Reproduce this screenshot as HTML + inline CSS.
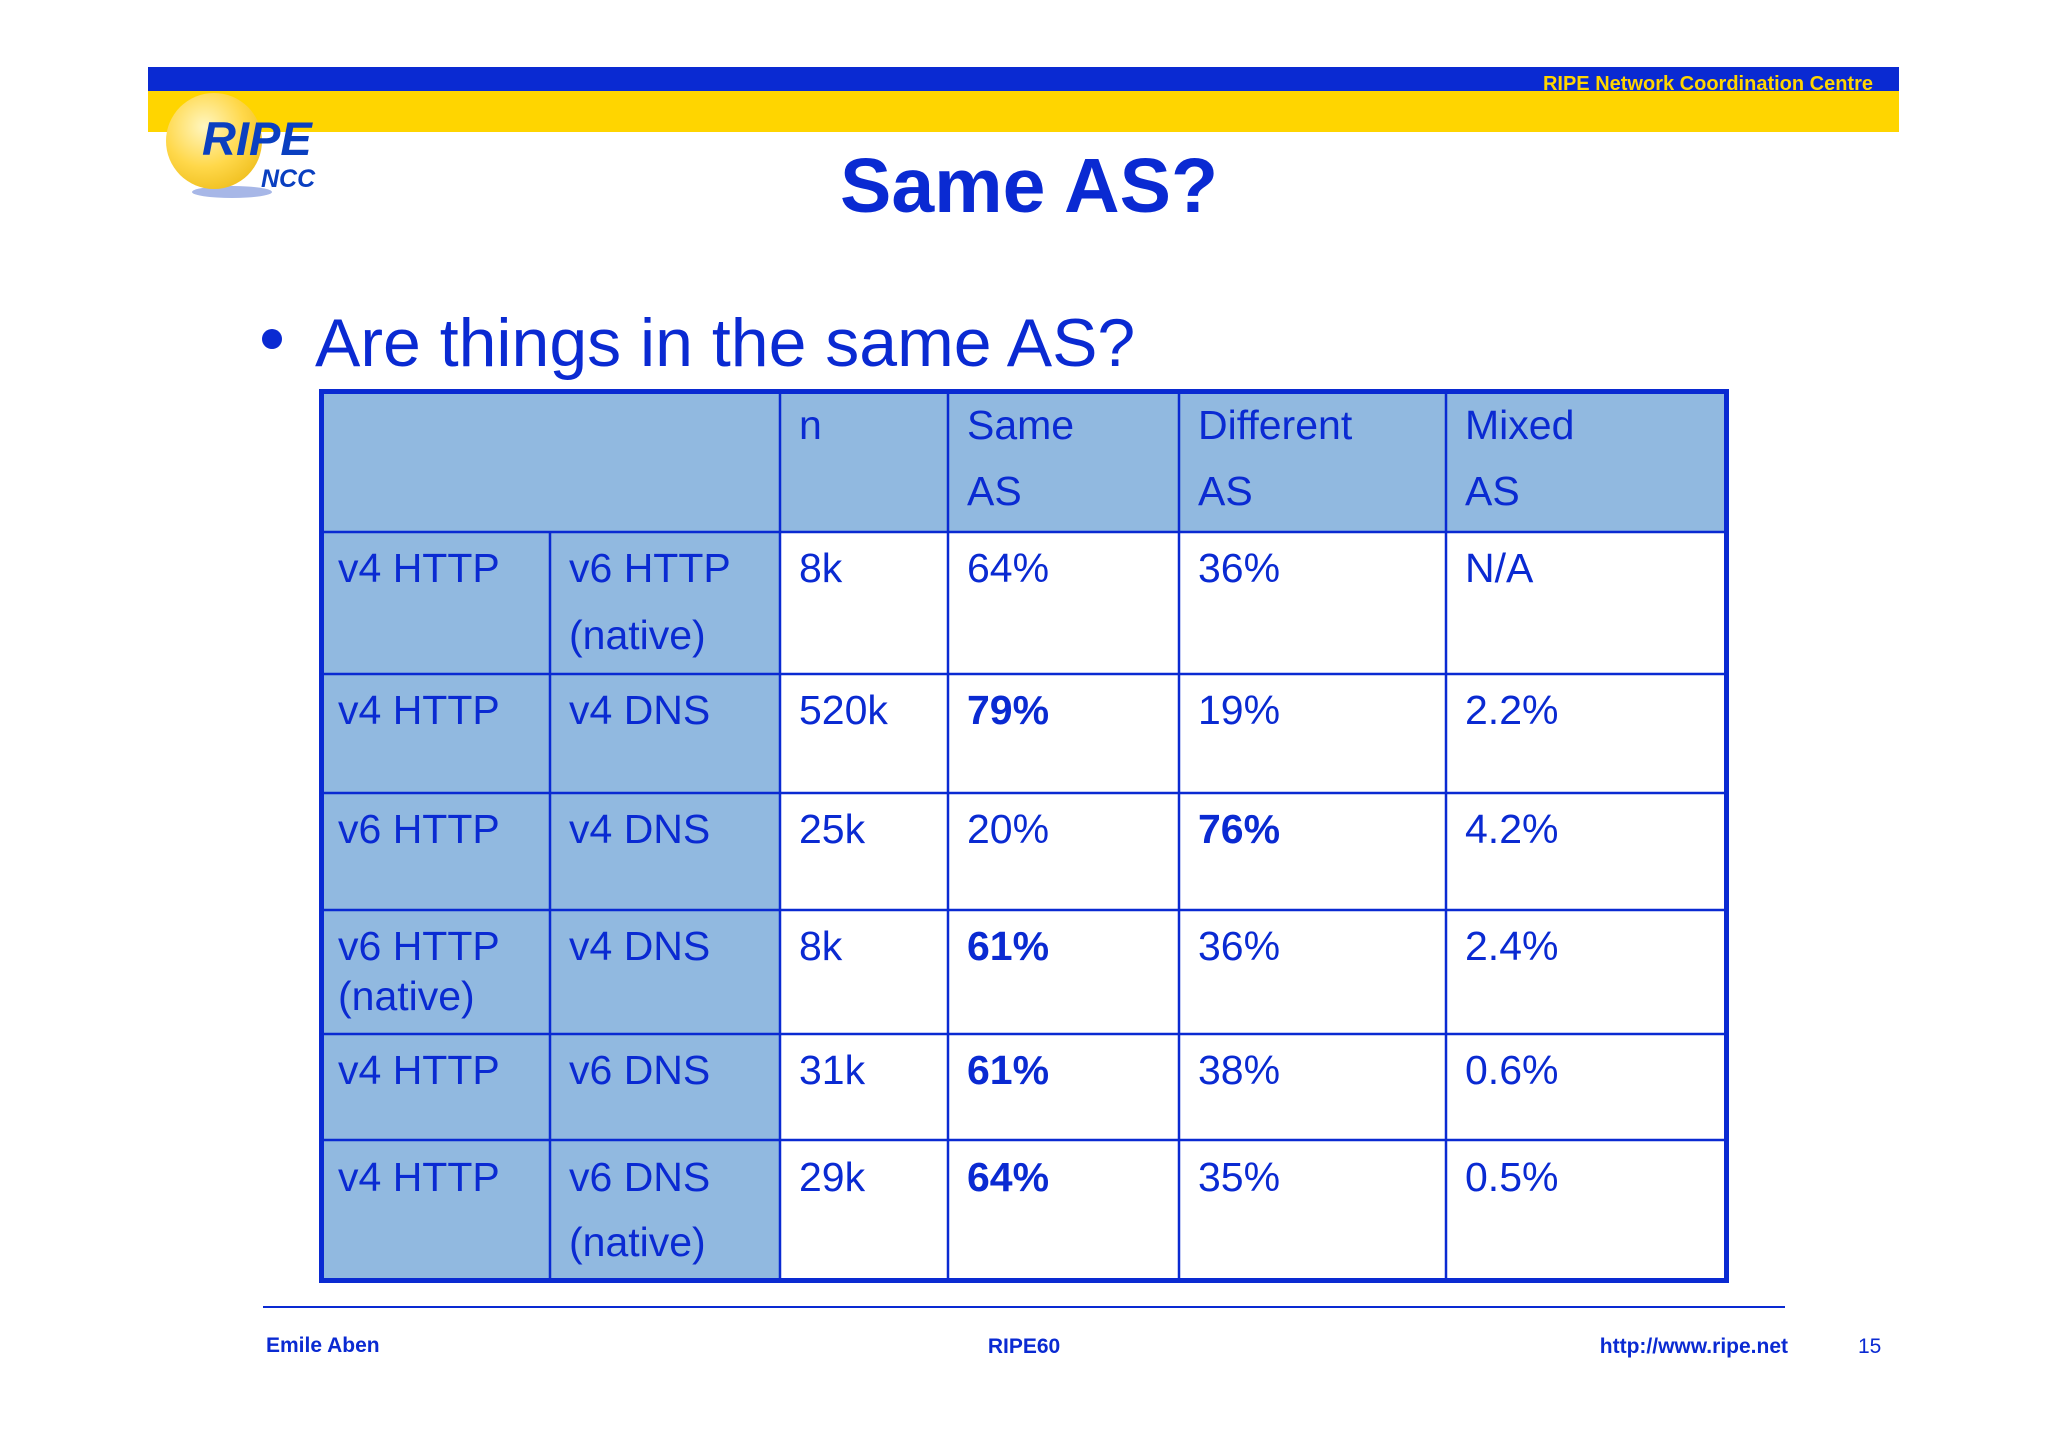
<!DOCTYPE html>
<html><head><meta charset="utf-8"><style>
html,body{margin:0;padding:0;background:#fff;}
svg{display:block;font-family:"Liberation Sans",Arial,sans-serif;}
</style></head><body>
<svg width="2048" height="1447" viewBox="0 0 2048 1447" xmlns="http://www.w3.org/2000/svg">
<defs>
<radialGradient id="globe" cx="0.4" cy="0.35" r="0.7">
<stop offset="0" stop-color="#fff6c0"/><stop offset="0.6" stop-color="#ffd84a"/><stop offset="1" stop-color="#f0c020"/>
</radialGradient>
</defs>
<rect x="148" y="67" width="1751" height="24" fill="#0a2ad2"/>
<rect x="148" y="91" width="1751" height="41" fill="#ffd500"/>
<text x="1873" y="90" text-anchor="end" font-size="20" font-weight="bold" fill="#ffd500">RIPE Network Coordination Centre</text>
<g>
<ellipse cx="232" cy="192" rx="40" ry="6" fill="#5070d0" opacity="0.5"/>
<circle cx="214" cy="141" r="48" fill="url(#globe)"/>
<text x="202" y="155" font-size="47" font-weight="bold" font-style="italic" fill="#0a3fc0">RIPE</text>
<text x="261" y="187" font-size="25" font-weight="bold" font-style="italic" fill="#0a3fc0">NCC</text>
</g>
<text x="1029" y="212" text-anchor="middle" font-size="77" font-weight="bold" fill="#0a2ad2">Same AS?</text>
<circle cx="272" cy="339" r="10" fill="#0a2ad2"/>
<text x="315" y="366" font-size="68" fill="#0a2ad2">Are things in the same AS?</text>
<g id="tbl"></g>
<line x1="263" y1="1307" x2="1785" y2="1307" stroke="#0a2ad2" stroke-width="2"/>
<text x="266" y="1352" font-size="21" font-weight="bold" fill="#0a2ad2">Emile Aben</text>
<text x="1024" y="1353" text-anchor="middle" font-size="21" font-weight="bold" fill="#0a2ad2">RIPE60</text>
<text x="1788" y="1353" text-anchor="end" font-size="21" font-weight="bold" fill="#0a2ad2">http://www.ripe.net</text>
<text x="1858" y="1353" font-size="21" fill="#0a2ad2">15</text>
</svg>
<script>
const colEdges=[319,550,780,948,1179,1446,1729];
const rowEdges=[389,532,674,793,910,1034,1140,1283];
const rows=[
 [["",""],[""],["n"],["Same","AS"],["Different","AS"],["Mixed","AS"]],
 [["v4 HTTP"],["v6 HTTP","(native)"],["8k"],["64%"],["36%"],["N/A"]],
 [["v4 HTTP"],["v4 DNS"],["520k"],["79%"],["19%"],["2.2%"]],
 [["v6 HTTP"],["v4 DNS"],["25k"],["20%"],["76%"],["4.2%"]],
 [["v6 HTTP","(native)"],["v4 DNS"],["8k"],["61%"],["36%"],["2.4%"]],
 [["v4 HTTP"],["v6 DNS"],["31k"],["61%"],["38%"],["0.6%"]],
 [["v4 HTTP"],["v6 DNS","(native)"],["29k"],["64%"],["35%"],["0.5%"]]
];
const boldCells=[[2,3],[3,4],[4,3],[5,3],[6,3]];
const baseOff=[[50,116],[50,117],[50],[50],[50,100],[50],[51,116]];
const NS="http://www.w3.org/2000/svg";
const g=document.getElementById('tbl');
function mk(t,a){const e=document.createElementNS(NS,t);for(const k in a)e.setAttribute(k,a[k]);g.appendChild(e);return e;}
const bg="#91b9e0",ink="#0a2ad2";
// header bg
let r=mk('rect',{x:colEdges[0],y:rowEdges[0],width:colEdges[6]-colEdges[0],height:rowEdges[1]-rowEdges[0],fill:bg});


r=mk('rect',{x:colEdges[0],y:rowEdges[1],width:colEdges[2]-colEdges[0],height:rowEdges[7]-rowEdges[1],fill:bg});


// grid lines
for(let i=1;i<rowEdges.length-1;i++){
 const l=mk('line',{x1:colEdges[0],x2:colEdges[6],y1:rowEdges[i],y2:rowEdges[i],stroke:ink,'stroke-width':2.5});
 
 
}
for(let j=1;j<colEdges.length-1;j++){
 const y1=(j===1)?rowEdges[1]:rowEdges[0];
 const l=mk('line',{x1:colEdges[j],x2:colEdges[j],y1:y1,y2:rowEdges[7],stroke:ink,'stroke-width':2.5});
 
 
}
const b=mk('rect',{x:colEdges[0]+2.5,y:rowEdges[0]+2.5,width:colEdges[6]-colEdges[0]-5,height:rowEdges[7]-rowEdges[0]-5,fill:'none',stroke:ink,'stroke-width':5});


// text
rows.forEach((row,ri)=>{
 row.forEach((cell,ci)=>{
  cell.forEach((line,li)=>{
   if(!line)return;
   const bold=boldCells.some(p=>p[0]===ri&&p[1]===ci);
   const off=baseOff[ri][li]!==undefined?baseOff[ri][li]:baseOff[ri][0]+67*li;
   const t=mk('text',{x:colEdges[ci]+19,y:rowEdges[ri]+off,'font-size':41,fill:ink,'font-weight':bold?'bold':'normal'});
   t.textContent=line;
   
   
  });
 });
});
</script>
</body></html>
